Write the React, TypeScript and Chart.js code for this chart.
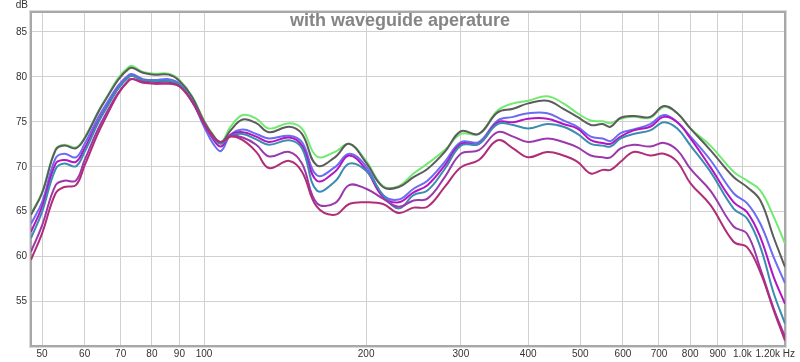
import React, { useEffect, useRef } from "react";
import { Chart, registerables } from "chart.js";

Chart.register(...registerables);

const freqs = [47.7, 50, 53, 55, 57.8, 60, 65, 72.6, 77, 80.8, 86, 90, 95, 100, 104, 107.5, 112, 118, 125, 132, 144, 152, 162, 175, 186, 200, 215, 230, 245, 260, 280, 300, 324, 351, 375, 400, 434, 465, 494, 523, 550, 569, 594, 628, 674, 715, 757, 801, 872, 963, 1020, 1080, 1143, 1200];

const greenSeries = [64.7, 67.1, 71.9, 72.4, 72.1, 73.2, 77.1, 81.1, 80.5, 80.3, 80.3, 79.6, 77.8, 75.1, 73.5, 72.7, 74.4, 75.7, 75.3, 74.2, 74.8, 74.2, 71.1, 71.6, 72.5, 70.6, 67.8, 67.8, 69.2, 70.3, 71.8, 73.6, 73.6, 76.2, 77.0, 77.3, 77.8, 77.0, 75.9, 75.1, 75.0, 74.8, 75.3, 75.5, 75.4, 76.6, 75.9, 74.2, 72.3, 69.4, 68.4, 67.3, 64.4, 61.4];
const graySeries = [64.6, 67.0, 71.8, 72.3, 72.0, 73.1, 77.0, 80.9, 80.4, 80.2, 80.2, 79.5, 77.7, 75.0, 73.4, 72.6, 74.0, 75.2, 74.8, 73.8, 74.4, 73.6, 70.1, 71.0, 72.5, 70.4, 67.7, 67.7, 68.8, 69.7, 71.6, 73.9, 73.6, 76.0, 76.4, 77.0, 77.3, 76.4, 75.5, 74.6, 74.7, 74.4, 75.4, 75.6, 75.5, 76.7, 75.9, 74.2, 71.8, 68.8, 67.7, 66.2, 62.1, 58.8];
const blueSeries = [63.6, 66.0, 70.9, 71.4, 71.0, 72.5, 76.4, 80.2, 79.7, 79.6, 79.7, 79.2, 77.3, 74.4, 72.5, 71.7, 73.5, 74.1, 73.6, 73.1, 73.4, 72.7, 69.0, 69.9, 71.4, 70.0, 66.8, 66.3, 67.5, 68.4, 70.5, 72.7, 72.7, 75.1, 75.5, 75.9, 75.9, 75.1, 74.4, 73.3, 73.1, 72.8, 73.7, 74.1, 74.7, 75.7, 74.9, 73.3, 70.7, 67.0, 65.9, 63.6, 59.9, 57.0];
const magentaSeries = [62.7, 65.5, 70.3, 70.7, 70.5, 72.0, 76.0, 80.0, 79.6, 79.4, 79.4, 79.0, 77.3, 74.7, 73.0, 72.2, 73.5, 73.8, 73.3, 72.7, 73.2, 72.3, 68.4, 69.4, 71.2, 69.6, 66.6, 66.0, 67.1, 67.9, 70.1, 72.5, 72.5, 74.9, 74.9, 75.3, 75.3, 74.7, 74.2, 72.9, 72.6, 72.5, 73.3, 74.0, 74.4, 75.5, 74.9, 73.1, 69.9, 66.0, 64.9, 62.1, 57.7, 54.7];
const tealSeries = [62.0, 64.9, 69.7, 70.3, 70.0, 71.6, 75.9, 80.0, 79.6, 79.5, 79.5, 79.1, 77.3, 74.8, 73.2, 72.5, 73.4, 73.6, 73.0, 72.4, 72.9, 72.0, 67.3, 68.3, 70.3, 69.5, 66.8, 65.3, 66.8, 67.3, 69.7, 72.3, 72.5, 74.7, 74.6, 74.2, 74.7, 74.4, 73.6, 72.5, 72.3, 72.2, 73.1, 73.6, 74.0, 74.9, 74.2, 72.3, 69.4, 65.3, 64.2, 61.0, 55.9, 52.5];
const purpleSeries = [60.5, 63.4, 67.9, 68.4, 68.4, 70.7, 75.3, 79.6, 79.4, 79.2, 79.2, 78.9, 77.2, 74.8, 73.3, 72.7, 73.4, 73.2, 72.4, 71.1, 71.6, 70.3, 65.9, 65.9, 67.9, 67.5, 66.4, 65.5, 66.2, 66.4, 68.8, 71.4, 71.8, 73.8, 73.3, 72.7, 73.1, 72.7, 72.1, 71.2, 71.0, 71.0, 72.0, 72.4, 72.2, 72.6, 71.8, 69.7, 67.3, 63.3, 62.5, 58.6, 54.2, 51.0];
const pinkSeries = [59.6, 62.5, 67.0, 67.7, 67.9, 70.1, 74.9, 79.6, 79.3, 79.2, 79.2, 78.9, 77.2, 74.8, 73.3, 72.7, 73.3, 72.9, 71.6, 69.8, 70.6, 69.4, 65.5, 64.6, 65.8, 66.0, 65.8, 64.8, 65.4, 65.5, 67.7, 69.9, 70.7, 72.9, 72.0, 71.0, 71.6, 71.2, 70.5, 69.2, 69.6, 69.6, 70.5, 71.6, 71.2, 71.4, 70.5, 68.1, 65.7, 61.6, 61.0, 58.2, 54.0, 50.6];

const xTickValues = [50, 60, 70, 80, 90, 100, 200, 300, 400, 500, 600, 700, 800, 900, 1000];
const xTickLabels = ["50", "60", "70", "80", "90", "100", "200", "300", "400", "500", "600", "700", "800", "900", "1.0k"];
const xEndLabel = "1.20k Hz";
const yTickValues = [55, 60, 65, 70, 75, 80, 85];
const yUnit = "dB";
const titleText = "with waveguide aperature";

const seriesList = [
  { data: pinkSeries, color: "#b02d78" },
  { data: purpleSeries, color: "#9b38ac" },
  { data: tealSeries, color: "#3a8cb0" },
  { data: magentaSeries, color: "#b414c4" },
  { data: blueSeries, color: "#6a6cf2" },
  { data: graySeries, color: "#5c5c5c" },
  { data: greenSeries, color: "#72ea72" },
];

const FONT = '"Liberation Sans", Arial, sans-serif';

const decorPlugin = {
  id: "decor",
  beforeDraw(chart: any) {
    const ctx = chart.ctx;
    ctx.save();
    ctx.fillStyle = "#ffffff";
    ctx.fillRect(0, 0, chart.width, chart.height);
    ctx.restore();
  },
  beforeDatasetsDraw(chart: any) {
    const ctx = chart.ctx;
    const a = chart.chartArea;
    ctx.save();
    ctx.strokeStyle = "#dadada";
    ctx.lineWidth = 1;
    ctx.strokeRect(a.left - 1.5, a.top - 1.5, a.right - a.left + 3, a.bottom - a.top + 3);
    ctx.strokeStyle = "#a8a8a8";
    ctx.lineWidth = 2;
    ctx.strokeRect(a.left, a.top, a.right - a.left, a.bottom - a.top);
    ctx.restore();
  },
  afterDraw(chart: any) {
    const ctx = chart.ctx;
    const xs = chart.scales.x;
    const ys = chart.scales.y;
    const a = chart.chartArea;
    ctx.save();
    ctx.font = "10px " + FONT;
    ctx.fillStyle = "#333333";
    ctx.textAlign = "right";
    ctx.textBaseline = "middle";
    yTickValues.forEach((v) => {
      ctx.fillText(String(v), a.left - 4, ys.getPixelForValue(v) + 0.5);
    });
    ctx.fillText(yUnit, a.left - 3, 5);
    ctx.textAlign = "center";
    xTickValues.forEach((v, i) => {
      ctx.fillText(xTickLabels[i], xs.getPixelForValue(v), a.bottom + 8.5);
    });
    ctx.textAlign = "right";
    ctx.fillText(xEndLabel, xs.getPixelForValue(1200) + 10, a.bottom + 8.5);
    ctx.font = "bold 18px " + FONT;
    ctx.fillStyle = "#858585";
    ctx.textAlign = "center";
    ctx.fillText(titleText, 400, 21);
    ctx.restore();
  },
};

export default function App() {
  const ref = useRef<HTMLCanvasElement | null>(null);
  useEffect(() => {
    if (!ref.current) return;
    const chart = new Chart(ref.current, {
      type: "line",
      data: {
        datasets: seriesList.map((s) => ({
          data: freqs.map((f, i) => ({ x: f, y: s.data[i] })),
          borderColor: s.color,
          borderWidth: 2,
          pointRadius: 0,
          fill: false,
          tension: 0.4,
        })),
      },
      options: {
        animation: false,
        responsive: false,
        maintainAspectRatio: false,
        layout: { padding: { left: 31, right: 15, top: 12, bottom: 16 } },
        plugins: { legend: { display: false }, tooltip: { enabled: false }, title: { display: false } },
        scales: {
          x: {
            type: "logarithmic",
            min: 47.7,
            max: 1200,
            afterBuildTicks: (s: any) => {
              s.ticks = xTickValues.map((v) => ({ value: v }));
            },
            ticks: { display: false, padding: 0 },
            grid: { color: "#d0d0d0", lineWidth: 1, drawTicks: false },
            border: { display: false },
          },
          y: {
            type: "linear",
            min: 50,
            max: 87.17,
            afterBuildTicks: (s: any) => {
              s.ticks = yTickValues.map((v) => ({ value: v }));
            },
            ticks: { display: false, padding: 0 },
            grid: { color: "#d0d0d0", lineWidth: 1, drawTicks: false },
            border: { display: false },
          },
        },
      },
      plugins: [decorPlugin],
    } as any);
    return () => chart.destroy();
  }, []);
  return (
    <div style={{ position: "absolute", left: 0, top: 0, width: 800, height: 362, background: "#fff" }}>
      <canvas ref={ref} width={800} height={362} style={{ width: 800, height: 362, display: "block" }} />
    </div>
  );
}
